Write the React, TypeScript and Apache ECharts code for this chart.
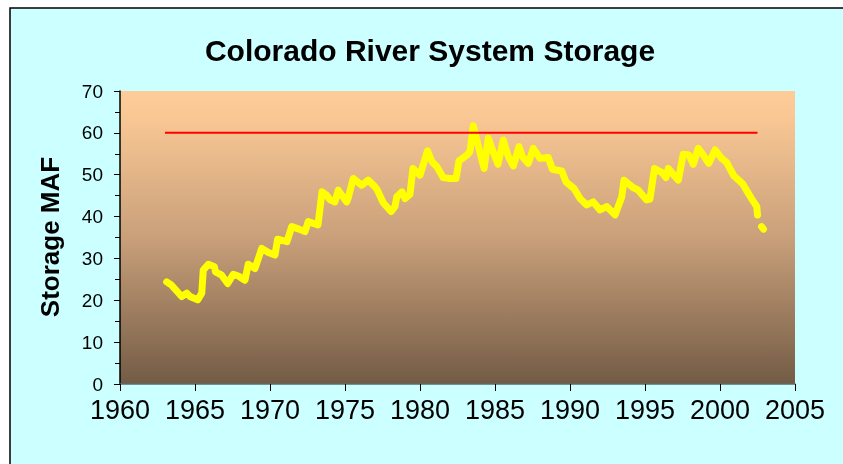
import React, { useEffect, useRef } from "react";
import * as echarts from "echarts";

const chartTitle = "Colorado River System Storage";
const yAxisTitle = "Storage MAF";

// Month-ish sample times (decimal years) and reservoir storage (million acre-feet)
const storageYears = [
  1963.11, 1963.44, 1964.11, 1964.45, 1964.67, 1965.18, 1965.45, 1965.55, 1965.89, 1966.29,
  1966.37, 1966.78, 1967.18, 1967.55, 1967.89, 1968.33, 1968.55, 1969.0, 1969.45, 1969.89,
  1970.33, 1970.51, 1971.13, 1971.45, 1971.93, 1972.33, 1972.55, 1973.2, 1973.47, 1973.78,
  1974.0, 1974.33, 1974.55, 1975.11, 1975.22, 1975.55, 1976.11, 1976.55, 1977.0, 1977.13,
  1977.55, 1978.07, 1978.33, 1978.45, 1978.8, 1979.0, 1979.33, 1979.53, 1980.0, 1980.5,
  1980.8, 1981.13, 1981.55, 1982.0, 1982.4, 1982.6, 1983.13, 1983.33, 1983.55, 1983.89,
  1984.27, 1984.55, 1984.89, 1985.2, 1985.55, 1985.89, 1986.22, 1986.6, 1986.83, 1987.22,
  1987.55, 1988.0, 1988.55, 1988.83, 1989.45, 1989.73, 1990.0, 1990.27, 1990.67, 1991.11,
  1991.55, 1992.0, 1992.45, 1993.0, 1993.45, 1993.6, 1994.22, 1994.55, 1995.11, 1995.33,
  1995.63, 1996.13, 1996.4, 1996.55, 1996.93, 1997.22, 1997.55, 1997.93, 1998.22, 1998.55,
  1998.89, 1999.25, 1999.67, 2000.11, 2000.45, 2000.93, 2001.5, 2001.83, 2002.17, 2002.45,
  2002.5, 2002.65, 2002.77, 2002.9,
];
const storageMAF: (number | null)[] = [
  24.4, 23.6, 20.9, 21.7, 20.9, 20.1, 21.7, 27.2, 28.6, 28.0,
  26.8, 26.0, 24.0, 26.2, 25.8, 24.8, 28.6, 27.6, 32.4, 31.4,
  30.8, 34.6, 34.0, 37.6, 37.0, 36.4, 38.8, 38.0, 45.9, 45.1,
  44.0, 43.5, 46.3, 43.5, 44.5, 49.1, 47.5, 48.7, 47.1, 46.5,
  43.3, 41.2, 42.4, 44.7, 45.9, 44.3, 45.3, 51.5, 49.9, 55.7,
  53.1, 51.9, 49.3, 49.1, 49.1, 53.3, 54.7, 55.5, 61.7, 56.9,
  51.5, 58.7, 55.3, 52.5, 58.3, 54.3, 52.1, 56.7, 54.3, 52.7,
  56.3, 53.9, 54.1, 51.3, 50.9, 48.3, 47.5, 46.7, 44.3, 42.8,
  43.5, 41.6, 42.4, 40.4, 44.7, 48.7, 46.9, 46.3, 44.0, 44.2,
  51.5, 50.5, 49.3, 51.5, 49.9, 48.7, 54.9, 54.7, 52.5, 56.3,
  54.7, 52.7, 55.9, 53.9, 52.9, 49.7, 47.9, 45.9, 43.9, 42.4,
  40.4, null, 37.6, 37.0,
];

// Full-pool reference line
const capacityYears = [1963, 2002.5];
const capacityMAF = [60, 60];

const xTicks = { min: 1960, max: 2005, interval: 5 };
const yTicks = { min: 0, max: 70, interval: 10 };

const FONT = "'Liberation Sans', Arial, sans-serif";

export default function App() {
  const ref = useRef<HTMLDivElement>(null);

  useEffect(() => {
    if (!ref.current) return;
    const chart = echarts.init(ref.current, null, { renderer: "svg" });

    const storageData = storageYears.map((yr, i) => [
      yr,
      storageMAF[i] === null ? "-" : storageMAF[i],
    ]);
    const capacityData = capacityYears.map((yr, i) => [yr, capacityMAF[i]]);

    chart.setOption({
      animation: false,
      graphic: [
        {
          type: "rect",
          z: -10,
          shape: { x: 10, y: 8, width: 840, height: 470 },
          style: { fill: "#CCFFFF", stroke: "#000000", lineWidth: 1.5 },
          silent: true,
        },
        {
          type: "text",
          x: 50,
          y: 237,
          rotation: Math.PI / 2,
          style: {
            text: yAxisTitle,
            font: `bold 26px ${FONT}`,
            fill: "#000000",
            align: "center",
            verticalAlign: "middle",
          },
          silent: true,
        },
      ],
      title: {
        text: chartTitle,
        left: 425,
        top: 30,
        textAlign: "center",
        textStyle: {
          fontFamily: FONT,
          fontSize: 30,
          fontWeight: "bold",
          color: "#000000",
        },
      },
      grid: {
        left: 120,
        right: 48,
        top: 91,
        bottom: 80,
        show: true,
        borderWidth: 0,
        backgroundColor: new echarts.graphic.LinearGradient(0, 0, 0, 1, [
          { offset: 0, color: "#FECC98" },
          { offset: 0.08, color: "#FAC895" },
          { offset: 0.5, color: "#C9A07A" },
          { offset: 1, color: "#735B45" },
        ]),
      },
      xAxis: {
        type: "value",
        min: xTicks.min,
        max: xTicks.max,
        interval: xTicks.interval,
        axisLine: { show: true, lineStyle: { color: "#5A6A6A", width: 1.5 } },
        axisTick: { show: true, length: 7, lineStyle: { color: "#000000" } },
        splitLine: { show: false },
        axisLabel: {
          fontFamily: FONT,
          fontSize: 27,
          color: "#000000",
          margin: 12,
          formatter: (v: number) => String(v),
        },
      },
      yAxis: {
        type: "value",
        min: yTicks.min,
        max: yTicks.max,
        interval: yTicks.interval,
        axisLine: { show: true, lineStyle: { color: "#000000", width: 1.5 } },
        axisTick: { show: true, length: 6, lineStyle: { color: "#000000" } },
        minorTick: { show: true, splitNumber: 2, length: 5, lineStyle: { color: "#000000" } },
        splitLine: { show: false },
        axisLabel: {
          fontFamily: FONT,
          fontSize: 19,
          color: "#000000",
          margin: 17,
        },
      },
      series: [
        {
          type: "line",
          data: storageData,
          showSymbol: false,
          connectNulls: false,
          silent: true,
          lineStyle: { color: "#FFFF00", width: 7, cap: "round", join: "round" },
          z: 2,
        },
        {
          type: "line",
          data: capacityData,
          showSymbol: false,
          silent: true,
          lineStyle: { color: "#FF0000", width: 2 },
          z: 3,
        },
      ],
    });

    return () => chart.dispose();
  }, []);

  return (
    <div
      ref={ref}
      style={{ position: "fixed", left: 0, top: 0, width: 843, height: 464 }}
    />
  );
}
